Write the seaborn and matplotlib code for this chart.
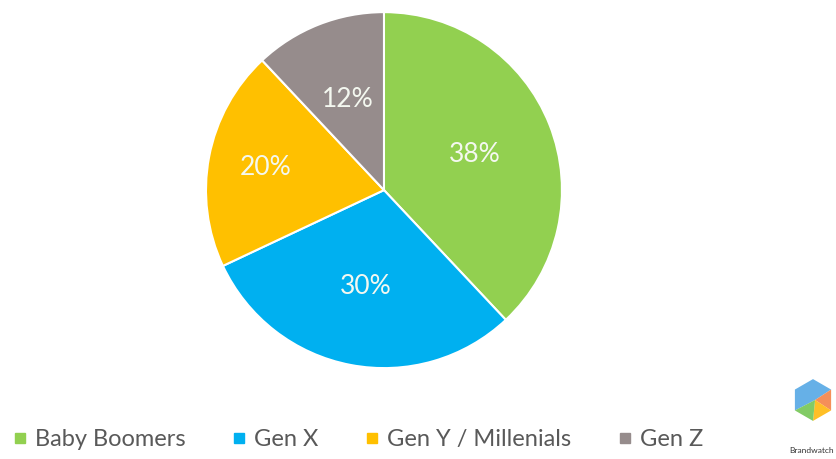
import matplotlib.pyplot as plt
import numpy as np
import seaborn as sns
from matplotlib.lines import Line2D
from matplotlib.patches import Polygon

generations = ["Baby Boomers", "Gen X", "Gen Y / Millenials", "Gen Z"]
shares = [38, 30, 20, 12]
colors = ["#92D050", "#00B0F0", "#FFC000", "#968C8C"]

sns.set_theme(style="white")
plt.rcParams['font.family'] = ['Lato', 'DejaVu Sans']

fig = plt.figure(figsize=(8.37, 4.59), dpi=100)
ax = fig.add_axes([0.2461, 0.198, 0.4253, 0.7756])

wedges, texts, autotexts = ax.pie(
    shares, colors=colors, startangle=90, counterclock=False,
    autopct='%d%%', pctdistance=0.55,
    wedgeprops=dict(edgecolor='white', linewidth=1.5),
    textprops=dict(color='#F4F8F0', fontsize=19, fontweight='normal'))
ax.set_xlim(-1, 1)
ax.set_ylim(-1, 1)
ax.set_aspect('equal')
# the 20% label sits further out in the original
x, y = autotexts[2].get_position()
autotexts[2].set_position((x * 1.23, y * 1.23))

handles = [Line2D([0], [0], marker='s', linestyle='', markersize=7,
                  markerfacecolor=c, markeredgecolor=c) for c in colors]
fig.legend(handles, generations, loc='center', bbox_to_anchor=(0.427, 0.042),
           ncol=4, frameon=False, fontsize=17, handletextpad=0.3,
           columnspacing=1.9, handlelength=0.7, labelcolor='#595959')

# small logo in the corner
lax = fig.add_axes([790 / 837, 30 / 459, 46 / 837, 58 / 459])
lax.set_xlim(-1.1, 1.1)
lax.set_ylim(-1.1, 1.1)
lax.set_aspect('equal')
lax.axis('off')
ang = np.deg2rad([90, 150, 210, 270, 330, 30])
pts = np.c_[np.cos(ang), np.sin(ang)]
c0 = (0.1, 0.0)
pieces = [("#4BA3E3", [pts[5], pts[0], pts[1], pts[2]]),
          ("#F47C3C", [pts[4], pts[5]]),
          ("#FFB400", [pts[3], pts[4]]),
          ("#6CC24A", [pts[2], pts[3]])]
for col, vs in pieces:
    lax.add_patch(Polygon([c0] + list(vs), closed=True, color=col, alpha=0.85, lw=0))
fig.text(812 / 837, 0.012, "Brandwatch", fontsize=6, color='#333333', ha='center')

fig.savefig("out.png", dpi=100, facecolor='white')
